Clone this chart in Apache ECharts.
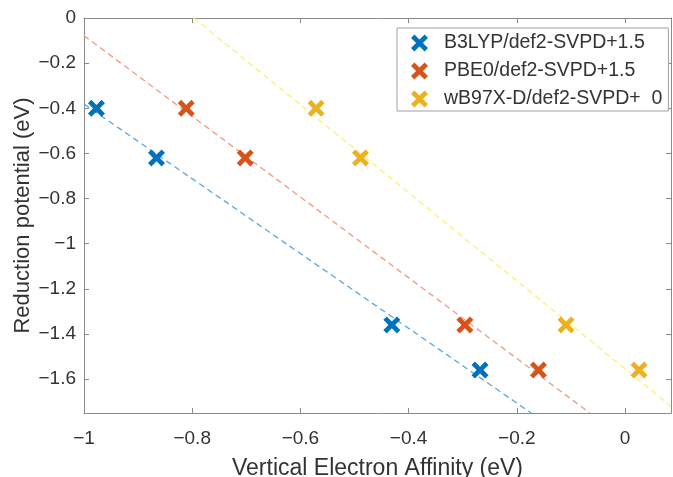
<!DOCTYPE html>
<html>
<head>
<meta charset="utf-8">
<script src="https://cdn.jsdelivr.net/npm/echarts@6.0.0/dist/echarts.min.js"></script>
<style>
  html, body { margin: 0; padding: 0; background: #fff; }
  #container { width: 673px; height: 477px; }
</style>
</head>
<body>
<div id="container"></div>
<script>
// values
const seriesNames = ['B3LYP/def2-SVPD+1.5', 'PBE0/def2-SVPD+1.5', 'wB97X-D/def2-SVPD+  0'];
const reductionPotential = [-0.40, -0.62, -1.36, -1.56];
const vea_B3LYP = [-0.977, -0.866, -0.431, -0.268];
const vea_PBE0 = [-0.811, -0.702, -0.296, -0.160];
const vea_wB97XD = [-0.571, -0.489, -0.109, 0.026];

// dashed fit lines, end points read where they leave the axes box
const fit_B3LYP = [[-1, -0.381], [-0.1735, -1.75]];
const fit_PBE0 = [[-1, -0.078], [-0.065, -1.75]];
const fit_wB97XD = [[-0.797, 0], [0.085, -1.72]];

const xTicks = [-1, -0.8, -0.6, -0.4, -0.2, 0];
const yTicks = [0, -0.2, -0.4, -0.6, -0.8, -1, -1.2, -1.4, -1.6];

const markerColors = ['#0072BD', '#D95319', '#EDB120'];
const fitColors = ['#5ba6e0', '#ef9a7c', '#fff070'];

// thick X marker like MATLAB 'x' with a heavy line width
const xMark = 'path://M2,0 L5,3 L8,0 L10,2 L7,5 L10,8 L8,10 L5,7 L2,10 L0,8 L3,5 L0,2 Z';

const font = '"Liberation Sans", Arial, sans-serif';
const axisGrey = '#8a8a8a';
const textCol = '#333333';

// MATLAB prints a real minus sign
const fmt = v => String(v).replace('-', '\u2212');

function pts(xs, ys) {
    return xs.map((x, i) => [x, ys[i]]);
}

const veaList = [vea_B3LYP, vea_PBE0, vea_wB97XD];
const fitList = [fit_B3LYP, fit_PBE0, fit_wB97XD];

const series = [];
fitList.forEach((f, i) => {
    series.push({
        type: 'line',
        data: f,
        symbol: 'none',
        silent: true,
        z: 1,
        lineStyle: { color: fitColors[i], width: 1.3, type: [6, 4] }
    });
});
veaList.forEach((xs, i) => {
    series.push({
        name: seriesNames[i],
        type: 'scatter',
        data: pts(xs, reductionPotential),
        symbol: xMark,
        symbolSize: 17,
        z: 3,
        itemStyle: { color: markerColors[i], opacity: 1 }
    });
});

const baseAxis = {
    axisLine: { show: true, onZero: false, lineStyle: { color: axisGrey, width: 1 } },
    splitLine: { show: false }
};

const option = {
    animation: false,
    backgroundColor: '#fff',
    textStyle: { fontFamily: font },
    grid: { left: 84, right: 2, top: 18, bottom: 64, containLabel: false, outerBoundsMode: 'none' },
    legend: {
        data: seriesNames,
        orient: 'vertical',
        left: 397,
        top: 28,
        icon: xMark,
        itemWidth: 17,
        itemHeight: 17,
        itemGap: 8,
        padding: [5, 6, 2, 14],
        borderColor: '#a0a0a0',
        borderWidth: 1,
        backgroundColor: '#fff',
        textStyle: { fontSize: 19.5, color: textCol, fontFamily: font, padding: [0, 0, 0, 11] }
    },
    xAxis: [
        Object.assign({}, baseAxis, {
            type: 'value',
            min: -1,
            max: 0.085,
            name: 'Vertical Electron Affinity (eV)',
            nameLocation: 'middle',
            nameGap: 44,
            nameMoveOverlap: false,
            nameTextStyle: { fontSize: 23, color: textCol, fontFamily: font },
            axisTick: { show: true, inside: true, length: 5, customValues: xTicks, lineStyle: { color: axisGrey } },
            axisLabel: { fontSize: 19, color: textCol, margin: 16, customValues: xTicks, fontFamily: font, formatter: fmt }
        }),
        Object.assign({}, baseAxis, {
            type: 'value',
            position: 'top',
            min: -1,
            max: 0.085,
            axisTick: { show: true, inside: true, length: 5, customValues: xTicks, lineStyle: { color: axisGrey } },
            axisLabel: { show: false }
        })
    ],
    yAxis: [
        Object.assign({}, baseAxis, {
            type: 'value',
            min: -1.75,
            max: 0,
            name: 'Reduction potential (eV)',
            nameLocation: 'middle',
            nameGap: 50,
            nameMoveOverlap: false,
            nameTextStyle: { fontSize: 22, color: textCol, fontFamily: font },
            axisTick: { show: true, inside: true, length: 5, customValues: yTicks, lineStyle: { color: axisGrey } },
            axisLabel: { fontSize: 19, color: textCol, margin: 8, customValues: yTicks, fontFamily: font, formatter: fmt }
        }),
        Object.assign({}, baseAxis, {
            type: 'value',
            position: 'right',
            min: -1.75,
            max: 0,
            axisTick: { show: true, inside: true, length: 5, customValues: yTicks, lineStyle: { color: axisGrey } },
            axisLabel: { show: false }
        })
    ],
    series: series
};

const chart = echarts.init(document.getElementById('container'), null, { renderer: 'canvas' });
chart.setOption(option);
</script>
</body>
</html>
